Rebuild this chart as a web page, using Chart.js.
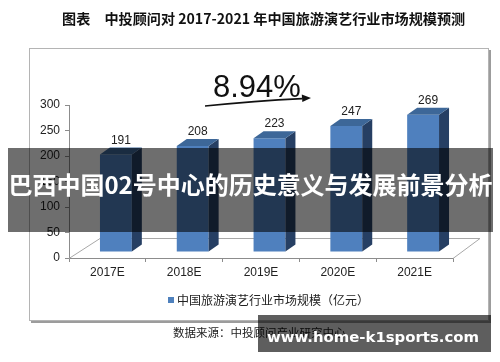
<!DOCTYPE html>
<html><head><meta charset="utf-8">
<script src="https://cdn.jsdelivr.net/npm/chart.js@4.4.1/dist/chart.umd.min.js"></script>
<style>
html,body{margin:0;padding:0;background:#fff;}
body{width:500px;height:362px;position:relative;overflow:hidden;font-family:"Noto Sans CJK SC",sans-serif;}
.abs{position:absolute;white-space:nowrap;line-height:1;}
</style></head><body>
<div class="abs" style="left:29px;top:48px;width:458px;height:271px;border:1px solid #b4b4b4;box-shadow:2px 2px 0 #9c9c9c;"></div>
<canvas id="c" width="500" height="362" style="position:absolute;left:0;top:0;"></canvas>
<div class="abs" id="title" style="left:62px;top:11px;font-size:14.6px;font-weight:700;color:#111;"></div>
<div class="abs" id="growth" style="left:213px;top:71px;font-family:'Liberation Sans',Arial,sans-serif;font-size:31px;color:#111;"></div>
<svg class="abs" width="500" height="362" style="left:0;top:0;">
  <path d="M205 106 Q255 101 302 98.6" stroke="#111" stroke-width="1.6" fill="none"/>
  <polygon points="311,98 301.8,94.6 302.3,102" fill="#111"/>
</svg>
<div class="abs" style="left:168px;top:297px;width:6px;height:6px;background:#4f81bd;"></div>
<div class="abs" id="legend" style="left:177px;top:294px;font-size:12px;color:#222;"></div>
<div class="abs" id="source" style="left:173px;top:327px;font-size:11.5px;color:#222;"></div>
<div class="abs" style="left:8px;top:148px;width:485px;height:84px;background:rgba(0,0,0,0.57);"></div>
<div class="abs" style="left:8px;top:172px;width:485px;text-align:center;"><span id="banner" style="font-size:24px;font-weight:700;color:#fff;"></span></div>
<div class="abs" style="left:258px;top:315px;width:233px;height:37px;background:rgba(0,0,0,0.63);"></div>
<div class="abs" id="wm" style="left:267px;top:330px;font-family:'DejaVu Sans',sans-serif;font-weight:700;font-size:15px;color:#fff;"></div>
<script>
const titleText = '图表　中投顾问对 2017-2021 年中国旅游演艺行业市场规模预测';
const categories = ['2017E', '2018E', '2019E', '2020E', '2021E'];
const marketSize = [191, 208, 223, 247, 269];
const yMin = 0, yMax = 300, yStep = 50;
const seriesName = '中国旅游演艺行业市场规模（亿元）';
const growthLabel = '8.94%';
const sourceText = '数据来源：中投顾问产业研究中心';
const bannerText = '巴西中国02号中心的历史意义与发展前景分析';
const watermarkText = 'www.home-k1sports.com';

document.getElementById('title').textContent = titleText;
document.getElementById('growth').textContent = growthLabel;
document.getElementById('legend').textContent = seriesName;
document.getElementById('source').textContent = sourceText;
document.getElementById('banner').textContent = bannerText;
document.getElementById('wm').textContent = watermarkText;

function fitWidth(id, target, centerY) {
  const el = document.getElementById(id);
  const s = parseFloat(el.style.fontSize);
  const w = el.getBoundingClientRect().width;
  if (w > 0) el.style.fontSize = (s * target / w).toFixed(2) + 'px';
}
function fitAll() {
  fitWidth('title', 403);
  fitWidth('banner', 484);
  fitWidth('wm', 212);
}
fitAll();
if (document.fonts && document.fonts.ready) document.fonts.ready.then(fitAll);

const SHIFT = {x: 8.5, y: -6};
const DEPTH = {dx: 10, dy: -7};
const bar3d = {
  id: 'bar3d',
  beforeDatasetsDraw(chart) {
    const {ctx, chartArea: a} = chart;
    ctx.save();
    ctx.strokeStyle = '#a8a8a8';
    ctx.lineWidth = 1;
    ctx.beginPath();
    ctx.moveTo(a.left, a.bottom + 0.5);
    ctx.lineTo(a.left + 31, a.bottom - 19.5);
    ctx.lineTo(a.right + 27, a.bottom - 19.5);
    ctx.lineTo(a.right, a.bottom + 0.5);
    ctx.stroke();
    ctx.restore();
    ctx.save();
    ctx.translate(SHIFT.x, SHIFT.y);
  },
  afterDatasetsDraw(chart) {
    const ctx = chart.ctx;
    const meta = chart.getDatasetMeta(0);
    const data = chart.data.datasets[0].data;
    meta.data.forEach((bar, i) => {
      const {x, y, base, width} = bar.getProps(['x', 'y', 'base', 'width'], true);
      const l = x - width / 2, r = x + width / 2;
      ctx.fillStyle = '#263f63';
      ctx.beginPath();
      ctx.moveTo(r, y); ctx.lineTo(r + DEPTH.dx, y + DEPTH.dy);
      ctx.lineTo(r + DEPTH.dx, base + DEPTH.dy); ctx.lineTo(r, base);
      ctx.closePath(); ctx.fill();
      ctx.fillStyle = '#3d6798';
      ctx.beginPath();
      ctx.moveTo(l, y); ctx.lineTo(l + DEPTH.dx, y + DEPTH.dy);
      ctx.lineTo(r + DEPTH.dx, y + DEPTH.dy); ctx.lineTo(r, y);
      ctx.closePath(); ctx.fill();
      ctx.fillStyle = '#222';
      ctx.font = '12px "Liberation Sans", Arial, sans-serif';
      ctx.textAlign = 'center';
      ctx.textBaseline = 'alphabetic';
      ctx.fillText(String(data[i]), x + DEPTH.dx / 2, y + DEPTH.dy - 4);
    });
    ctx.restore();
  }
};

const tickFont = {family: '"Liberation Sans", Arial, sans-serif', size: 12};
new Chart(document.getElementById('c'), {
  type: 'bar',
  data: {
    labels: categories,
    datasets: [{
      label: seriesName,
      data: marketSize,
      backgroundColor: '#4f80be',
      borderWidth: 0,
      barPercentage: 0.415,
      categoryPercentage: 1,
      clip: false
    }]
  },
  options: {
    responsive: false,
    animation: false,
    events: [],
    layout: {padding: {left: 20, right: 47, top: 105, bottom: 74}},
    plugins: {legend: {display: false}, tooltip: {enabled: false}},
    scales: {
      x: {
        grid: {drawOnChartArea: false, tickLength: 4, color: '#8c8c8c'},
        border: {color: '#8c8c8c'},
        ticks: {color: '#222', font: tickFont, padding: 3, maxRotation: 0},
        afterFit(s) { s.height = 30; s.paddingLeft = 0; s.paddingRight = 0; }
      },
      y: {
        min: yMin, max: yMax,
        grid: {drawOnChartArea: false, tickLength: 4, color: '#8c8c8c'},
        border: {color: '#8c8c8c'},
        ticks: {stepSize: yStep, color: '#222', font: tickFont, padding: 5},
        afterFit(s) { s.width = 49; s.paddingTop = 0; s.paddingBottom = 0; }
      }
    }
  },
  plugins: [bar3d]
});
</script>
</body></html>
